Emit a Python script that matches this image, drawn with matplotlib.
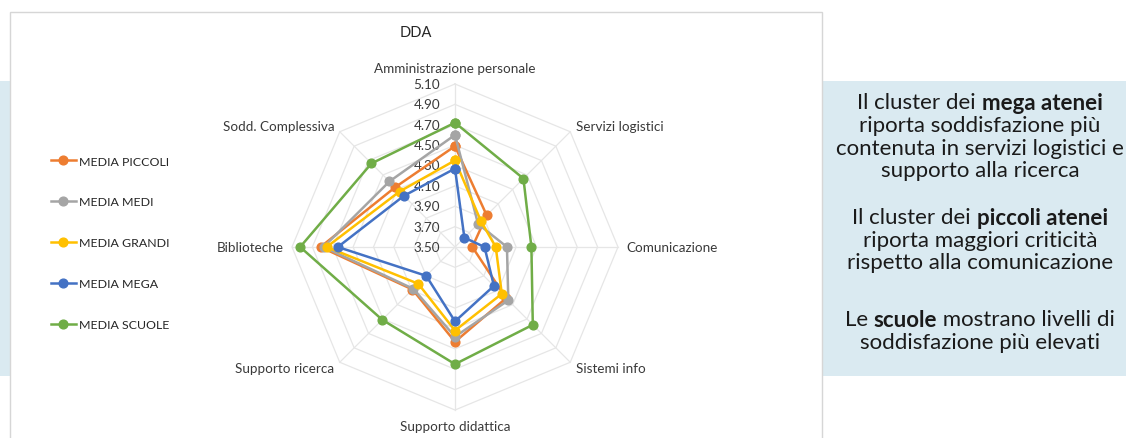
import numpy as np
import matplotlib
matplotlib.use("Agg")
import matplotlib.pyplot as plt
from matplotlib.patches import Rectangle
from matplotlib.lines import Line2D

# ---- data -------------------------------------------------------------
categories = ["Amministrazione personale", "Servizi logistici", "Comunicazione",
              "Sistemi info", "Supporto didattica", "Supporto ricerca",
              "Biblioteche", "Sodd. Complessiva"]
series_names = ["MEDIA PICCOLI", "MEDIA MEDI", "MEDIA GRANDI", "MEDIA MEGA", "MEDIA SCUOLE"]
media_piccoli = [4.49, 3.94, 3.67, 4.21, 4.43, 4.09, 4.82, 4.33]
media_medi = [4.60, 3.82, 4.01, 4.24, 4.38, 4.08, 4.79, 4.41]
media_grandi = [4.35, 3.86, 3.90, 4.15, 4.32, 4.01, 4.76, 4.27]
media_mega = [4.27, 3.63, 3.79, 4.04, 4.23, 3.90, 4.65, 4.21]
media_scuole = [4.72, 4.45, 4.25, 4.58, 4.65, 4.51, 5.02, 4.66]
series_values = [media_piccoli, media_medi, media_grandi, media_mega, media_scuole]
series_colors = ["#ED7D31", "#A5A5A5", "#FFC000", "#4472C4", "#70AD47"]
tick_values = [3.50, 3.70, 3.90, 4.10, 4.30, 4.50, 4.70, 4.90, 5.10]
chart_title = "DDA"

panel_lines = [
    [("Il cluster dei ", False), ("mega atenei", True)],
    [("riporta soddisfazione più", False)],
    [("contenuta in servizi logistici e", False)],
    [("supporto alla ricerca", False)],
    None,
    [("Il cluster dei ", False), ("piccoli atenei", True)],
    [("riporta maggiori criticità", False)],
    [("rispetto alla comunicazione", False)],
    None,
    [("Le ", False), ("scuole", True), (" mostrano livelli di", False)],
    [("soddisfazione più elevati", False)],
]

# ---- figure & background ---------------------------------------------
W, H = 1126, 439
plt.rcParams["font.family"] = ["Lato", "DejaVu Sans"]
fig = plt.figure(figsize=(W / 100, H / 100), dpi=100)
fig.patch.set_facecolor("white")

def px_rect(x0, y0, x1, y1, **kw):
    """Rectangle given in pixel coords measured from the top-left corner."""
    return Rectangle((x0 / W, 1 - y1 / H), (x1 - x0) / W, (y1 - y0) / H,
                     transform=fig.transFigure, **kw)

band = "#DAEAF1"
fig.patches.append(px_rect(0, 82, W, 377, facecolor=band, edgecolor="none", zorder=0))
fig.patches.append(px_rect(9.5, 12.5, 821.5, H + 5, facecolor="white",
                           edgecolor="#D6D6D6", linewidth=1.0, zorder=1))

# ---- radar chart -------------------------------------------------------
cx, cy, R = 455, 248, 163
ax = fig.add_axes([(cx - R) / W, (H - cy - R) / H, 2 * R / W, 2 * R / H],
                  projection="polar", zorder=2)
ax.set_theta_zero_location("N")
ax.set_theta_direction(-1)
ax.set_ylim(tick_values[0], tick_values[-1])
ax.set_xticks([])
ax.set_yticks([])
ax.grid(False)
ax.spines["polar"].set_visible(False)
ax.patch.set_alpha(0)

n = len(categories)
theta = np.arange(n) * 2 * np.pi / n
theta_closed = np.append(theta, theta[0])

grid_color = "#E6E6E6"
for t in tick_values[1:]:
    ax.plot(theta_closed, [t] * (n + 1), color=grid_color, lw=0.9, zorder=1,
            clip_on=False)
for th in theta:
    ax.plot([th, th], [tick_values[0], tick_values[-1]], color=grid_color,
            lw=0.9, zorder=1, clip_on=False)

text_color = "#3A3A3A"
label_size = 9.7
for t in tick_values:
    ax.annotate(f"{t:.2f}", xy=(0, t), xytext=(-15, 0), textcoords="offset pixels",
                ha="right", va="center", fontsize=label_size, color=text_color,
                zorder=3)

for th, name in zip(theta, categories):
    s, c = np.sin(th), np.cos(th)
    if abs(s) < 1e-6:
        off = (0, 10 * np.sign(c))
        ha, va = "center", ("bottom" if c > 0 else "top")
    else:
        off = (7.5 * s, 7.5 * c) if abs(c) > 1e-6 else (8 * np.sign(s), 0)
        ha, va = ("left" if s > 0 else "right"), "center"
    ax.annotate(name, xy=(th, tick_values[-1]), xytext=off,
                textcoords="offset pixels", ha=ha, va=va, fontsize=label_size,
                color=text_color, annotation_clip=False)

for name, vals, col in zip(series_names, series_values, series_colors):
    ax.plot(theta_closed, vals + vals[:1], color=col, lw=1.8, marker="o",
            markersize=6.3, label=name, zorder=4, clip_on=False)

fig.text(416 / W, 1 - 33 / H, chart_title, ha="center", va="center",
         fontsize=10.5, color="#262626", zorder=5)

handles = [Line2D([], [], color=c, lw=1.8, marker="o", markersize=6.3)
           for c in series_colors]
leg = fig.legend(handles, series_names, loc="upper left",
                 bbox_to_anchor=(51 / W, 1 - 156.5 / H), frameon=False,
                 fontsize=8.9, labelspacing=2.42, handlelength=2.0,
                 handletextpad=0.25, borderpad=0, borderaxespad=0)
for txt in leg.get_texts():
    txt.set_color("#262626")
leg.set_zorder(5)

# ---- commentary panel --------------------------------------------------
renderer = fig.canvas.get_renderer()
panel_cx = 980
y = 103.3
step = 22.7
gaps = [24.0, 34.0]
gap_i = 0
for line in panel_lines:
    if line is None:
        y += gaps[gap_i]
        gap_i += 1
        continue
    pieces = []
    for seg, bold in line:
        t = fig.text(0, 0, seg, fontsize=16, color="#1A1A1A",
                     fontweight="bold" if bold else "normal",
                     ha="left", va="center", zorder=5)
        pieces.append(t)
    widths = [p.get_window_extent(renderer).width for p in pieces]
    x = panel_cx - sum(widths) / 2
    for p, w in zip(pieces, widths):
        p.set_position((x / W, 1 - y / H))
        x += w
    y += step

fig.savefig("out.png", dpi=100, facecolor=fig.get_facecolor())
